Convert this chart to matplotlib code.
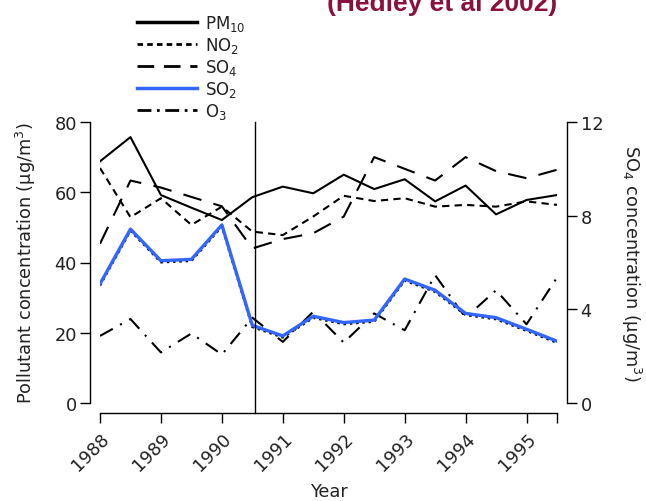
import numpy as np
import matplotlib
matplotlib.use('Agg')
import matplotlib.pyplot as plt
import matplotlib.transforms as mtransforms
from matplotlib.lines import Line2D

plt.rcParams['font.family'] = ['DejaVu Sans']
plt.rcParams['mathtext.fontset'] = 'dejavusans'

# semi-annual points 1988.0 ... 1995.5
years = np.arange(1988.0, 1996.0, 0.5)

pm10 = [68.8, 75.7, 59.2, 55.6, 52.1, 58.6, 61.6, 59.7, 65.0, 60.9, 63.7, 57.4, 61.9, 53.7, 57.8, 59.2]
no2 = [66.9, 52.9, 58.3, 50.7, 55.9, 48.8, 47.8, 53.1, 59.0, 57.5, 58.3, 55.9, 56.4, 55.9, 57.4, 56.4]
so4 = [6.8, 9.5, 9.2, 8.8, 8.4, 6.6, 7.0, 7.25, 7.96, 10.5, 10.0, 9.5, 10.5, 9.9, 9.6, 9.96]
so2 = [33.9, 49.5, 40.5, 40.9, 50.7, 22.1, 19.1, 24.7, 22.9, 23.6, 35.3, 32.1, 25.5, 24.3, 21.0, 17.6]
o3 = [19.1, 23.9, 14.4, 19.8, 13.8, 24.3, 17.4, 26.0, 17.2, 25.5, 20.7, 36.4, 24.3, 32.1, 22.4, 35.7]

year_ticks = [1988, 1989, 1990, 1991, 1992, 1993, 1994, 1995]
break_year = 1990.55

text_col = '#222222'
blue = '#3366ff'
fs = 12.8

fig = plt.figure(figsize=(6.46, 5.02), dpi=100)
ax = fig.add_axes([100 / 646, 1 - 404 / 502, 457 / 646, 281 / 502])
ax2 = ax.twinx()

dash = dict(color='black', lw=1.5)
ax.plot(years, pm10, '-', **dash)
ax.plot(years, no2, linestyle=(0, (3.5, 2.5)), **dash)
ax2.plot(years, so4, linestyle=(0, (9, 6)), **dash)
ax.plot(years, o3, linestyle=(0, (7, 4, 1, 4)), **dash)
shift = mtransforms.offset_copy(ax.transData, fig=fig, x=0, y=-1.5, units='dots')
ax.plot(years, so2, linestyle=(0, (1, 1.5)), color='black', lw=1.8, transform=shift)
ax.plot(years, so2, '-', color=blue, lw=2.4)

ax.set_xlim(1988, 1995.5)
ax.set_ylim(0, 80)
ax2.set_ylim(0, 12)

# vertical marker down to the bottom axis
ax.plot([break_year, break_year], [-10 / 3.51, 80], color='black', lw=1.0, clip_on=False)

for a in (ax, ax2):
    a.spines['top'].set_visible(False)
ax.spines['right'].set_visible(False)
ax2.spines['left'].set_visible(False)
ax2.spines['bottom'].set_visible(False)
ax.spines['left'].set_position(('outward', 7.2))
ax.spines['bottom'].set_position(('outward', 7.2))
ax2.spines['right'].set_position(('outward', 7.5))
ax.spines['left'].set_bounds(0, 80)
ax.spines['bottom'].set_bounds(1988, 1995.5)
ax2.spines['right'].set_bounds(0, 12)

ax.set_yticks([0, 20, 40, 60, 80])
ax2.set_yticks([0, 4, 8, 12])
ax.set_xticks(year_ticks + [1995.5])
ax.set_xticklabels([str(y) for y in year_ticks] + [''], rotation=45, ha='right',
                   rotation_mode='anchor')
for a in (ax, ax2):
    a.tick_params(length=7.5, width=1, colors='black', labelcolor=text_col, labelsize=fs, pad=2)
    for s in a.spines.values():
        s.set_linewidth(1.0)
ax.tick_params(axis='x', pad=4)

ax.set_ylabel('Pollutant concentration (µg/m$^3$)', fontsize=fs, color=text_col, labelpad=12)
ax.set_xlabel('Year', fontsize=fs, color=text_col, labelpad=6)
ax2.set_ylabel('SO$_4$ concentration (µg/m$^3$)', fontsize=fs, color=text_col,
               rotation=270, labelpad=29)

handles = [
    Line2D([], [], color='black', lw=2.5),
    Line2D([], [], color='black', lw=2, linestyle=(0, (2, 1.5))),
    Line2D([], [], color='black', lw=2, linestyle=(0, (6, 3.5))),
    Line2D([], [], color=blue, lw=2.5),
    Line2D([], [], color='black', lw=2, linestyle=(0, (5, 2, 1, 2))),
]
labels = ['PM$_{10}$', 'NO$_2$', 'SO$_4$', 'SO$_2$', 'O$_3$']
fig.legend(handles, labels, loc='upper left', bbox_to_anchor=(122 / 646, 1 + 1 / 502),
           frameon=False, fontsize=12, handlelength=3.6, labelspacing=0.12,
           handletextpad=0.5, labelcolor=text_col)

fig.text(557 / 646, 1 - 11 / 502, '(Hedley et al 2002)', ha='right', va='baseline',
         fontsize=19, fontweight='bold', color='#8b1040', family='Liberation Sans')

fig.savefig('out.png', dpi=100)
